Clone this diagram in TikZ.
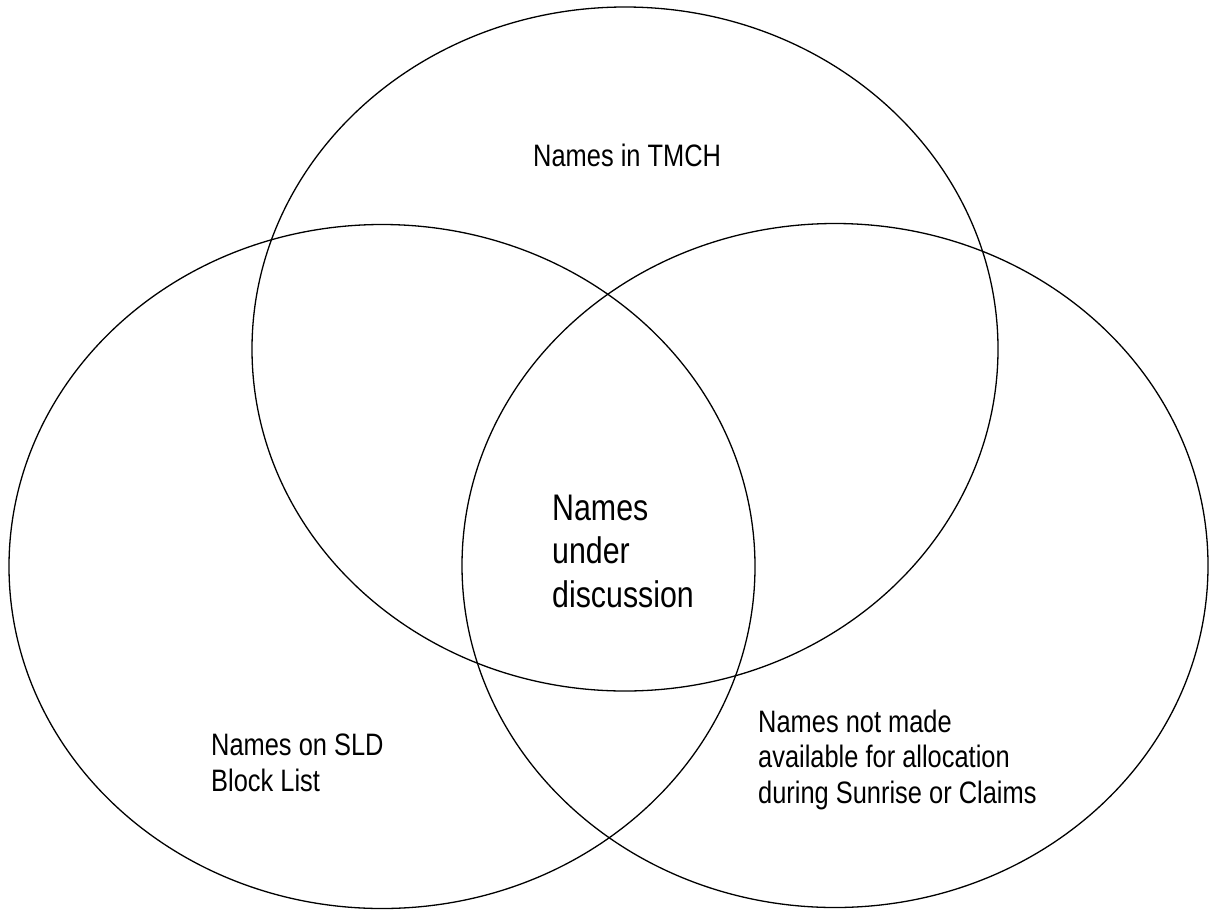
\documentclass[tikz,border=0pt]{standalone}
\usepackage{fontspec}
\setmainfont[FakeStretch=0.82]{Liberation Sans}
\usetikzlibrary{shapes.geometric}
\tikzset{
  setshape/.style={draw=black, line width=1.3pt, ellipse, inner sep=0pt,
    minimum width=746pt, minimum height=684pt},
  smalllabel/.style={align=left, anchor=base west, inner sep=0pt,
    font=\fontsize{31}{35.5}\selectfont},
  biglabel/.style={align=left, anchor=base west, inner sep=0pt,
    font=\fontsize{37}{43.5}\selectfont}
}
\begin{document}
\begin{tikzpicture}[x=1pt, y=-1pt]
\useasboundingbox[fill=white] (0,0) rectangle (1215,911);
\node[setshape] (tmch) at (625,349) {};
\node[setshape] (sld) at (382,566.5) {};
\node[setshape] (sunrise) at (835,565.5) {};
% base anchor of a multi-line node is the baseline of its last line
\node[smalllabel] (ltmch) at (533,166) {Names in TMCH};
\node[biglabel] (lcenter) at (552,607) {Names\\under\\discussion};
\node[smalllabel] (lsld) at (211,791) {Names on SLD\\Block List};
\node[smalllabel] (lsun) at (758,803) {Names not made\\available for allocation\\during Sunrise or Claims};
\end{tikzpicture}
\end{document}
